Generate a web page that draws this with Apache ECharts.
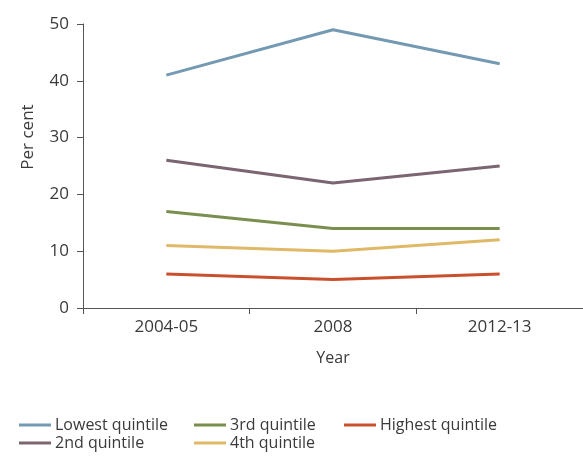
<!DOCTYPE html>
<html><head><meta charset="utf-8">
<script src="https://cdn.jsdelivr.net/npm/echarts@6/dist/echarts.min.js"></script>
<style>html,body{margin:0;padding:0;background:#fff}#c{width:583px;height:457px}</style>
</head><body><div id="c"></div>
<script>
var categories = ['2004-05', '2008', '2012-13'];
var seriesNames = ['Lowest quintile', '2nd quintile', '3rd quintile', '4th quintile', 'Highest quintile'];
var lowest = [41, 49, 43];
var second = [26, 22, 25];
var third = [17, 14, 14];
var fourth = [11, 10, 12];
var highest = [6, 5, 6];
var yTicks = [0, 10, 20, 30, 40, 50];

var colors = ['#7399b3', '#7b6570', '#7a8f4f', '#dfb868', '#c9502c'];
var values = [lowest, second, third, fourth, highest];
var font = '"Open Sans", sans-serif';
var txt = '#3a3a3a';

var chart = echarts.init(document.getElementById('c'));
var series = seriesNames.map(function (n, i) {
  return {
    name: n, type: 'line', data: values[i], symbol: 'none',
    lineStyle: { color: colors[i], width: 3 }, itemStyle: { color: colors[i] }
  };
});
function legend(names, left) {
  return {
    data: names, orient: 'vertical', left: left, top: 412, itemGap: 2,
    itemWidth: 32, itemHeight: 15,
    icon: 'path://M0,6L32,6L32,9L0,9Z',
    textStyle: { fontFamily: font, fontSize: 16, color: txt, padding: [0, 0, 0, -1] }
  };
}
chart.setOption({
  animation: false,
  grid: { left: 83, right: 0, top: 24, bottom: 149 },
  legend: [
    legend([seriesNames[0], seriesNames[1]], 14),
    legend([seriesNames[2], seriesNames[3]], 189),
    legend([seriesNames[4]], 339)
  ],
  xAxis: {
    type: 'category', data: categories, boundaryGap: true,
    name: 'Year', nameLocation: 'middle', nameGap: 42,
    nameTextStyle: { fontFamily: font, fontSize: 16, color: txt },
    axisLine: { lineStyle: { color: '#555', width: 1 } },
    axisTick: { show: true, length: 6, lineStyle: { color: '#555' } },
    axisLabel: { fontFamily: font, fontSize: 17, color: txt, margin: 11 }
  },
  yAxis: {
    type: 'value', min: yTicks[0], max: yTicks[yTicks.length - 1], interval: 10,
    name: 'Per cent', nameLocation: 'middle', nameGap: 46, nameRotate: 90,
    nameTextStyle: { fontFamily: font, fontSize: 17, color: txt, padding: [0, 0, 0, 58] },
    axisLine: { show: true, lineStyle: { color: '#555', width: 1 } },
    axisTick: { show: true, length: 6, lineStyle: { color: '#555' } },
    splitLine: { show: false },
    axisLabel: { fontFamily: font, fontSize: 17, color: txt, margin: 14 }
  },
  series: series
});
</script></body></html>
